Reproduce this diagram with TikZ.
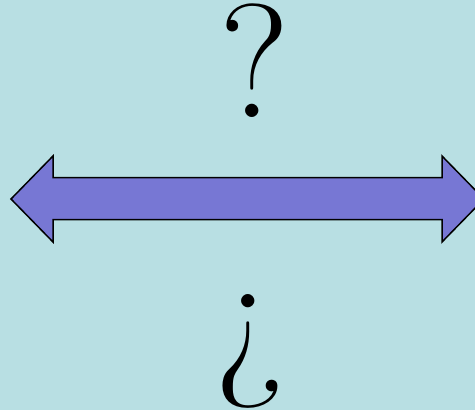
\documentclass[tikz,border=0pt]{standalone}
\usepackage{fontspec}
\definecolor{bgc}{HTML}{B8DFE3}
\definecolor{arrc}{HTML}{7777D4}
\begin{document}
\begin{tikzpicture}[x=1pt,y=-1pt,
  glyph/.style={inner sep=0pt,anchor=base,font=\fontsize{162}{170}\selectfont},
  dblarrow/.style={fill=arrc,draw=black,line width=1.5pt,line join=miter}]
\useasboundingbox (0,0) rectangle (475,410);
\fill[bgc] (0,0) rectangle (475,410);
\clip (0,0) rectangle (475,410);
\node[glyph] (q) at (255,117) {?};
\node[glyph] (iq) at (250.5,375) {¿};
\draw[dblarrow] (11,199) -- (53,156) -- (53,177.5) -- (442,177.5) -- (442,156)
  -- (484,199) -- (442,242) -- (442,219.5) -- (53,219.5) -- (53,242) -- cycle;
\end{tikzpicture}
\end{document}
